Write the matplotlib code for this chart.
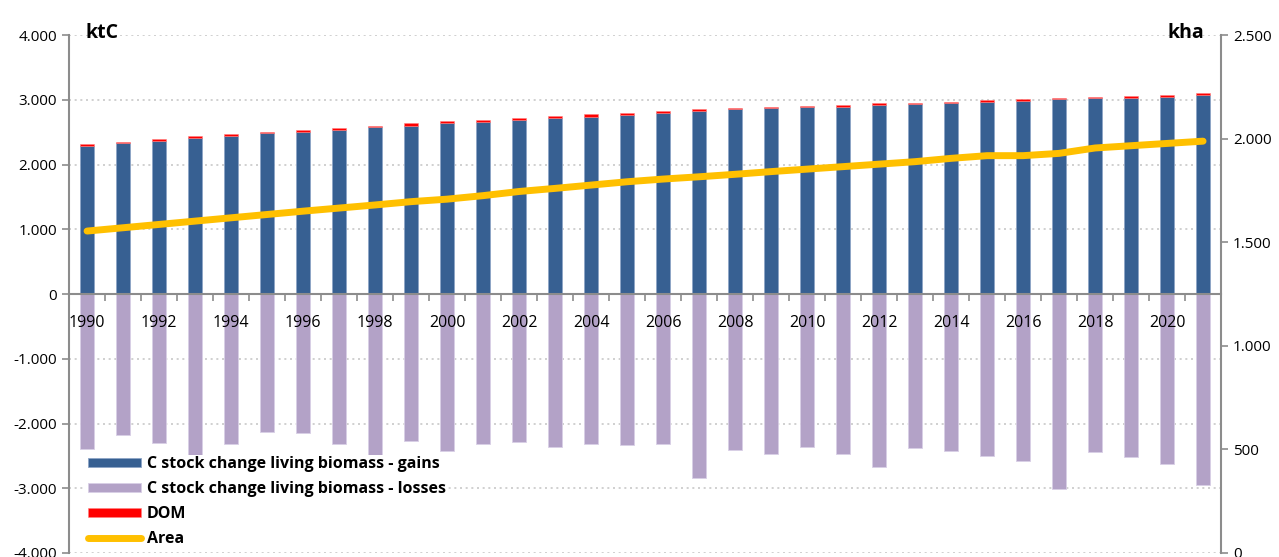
import matplotlib
matplotlib.use('Agg')
import matplotlib.pyplot as plt
from matplotlib.ticker import FuncFormatter, MultipleLocator, FixedLocator
import numpy as np

plt.rcParams['font.family'] = ['Open Sans', 'DejaVu Sans']

years = list(range(1990, 2022))
gains = [2290, 2327, 2358, 2409, 2445, 2482, 2497, 2538, 2574, 2600,
         2636, 2662, 2687, 2713, 2738, 2769, 2800, 2826, 2852, 2867,
         2883, 2893, 2914, 2929, 2945, 2965, 2981, 3007, 3022, 3032,
         3048, 3073]
dom = [31, 25, 36, 31, 31, 20, 36, 31, 26, 36,
       36, 30, 36, 36, 42, 31, 26, 31, 21, 21,
       20, 31, 31, 26, 25, 31, 31, 25, 25, 31,
       30, 31]
losses = [-2394, -2178, -2301, -2641, -2317, -2126, -2152, -2322, -2487, -2270,
          -2430, -2317, -2280, -2368, -2322, -2327, -2322, -2842, -2404, -2471,
          -2358, -2466, -2677, -2384, -2430, -2497, -2585, -3007, -2435, -2523,
          -2631, -2955]
area = [1554, 1570, 1586, 1602, 1618, 1634, 1650, 1665, 1680, 1696,
        1708, 1725, 1745, 1760, 1776, 1792, 1805, 1816, 1828, 1841,
        1853, 1865, 1877, 1889, 1905, 1918, 1918, 1929, 1955, 1966,
        1977, 1988]


def thousands(v, pos):
    s = '{:,.0f}'.format(v).replace(',', '.')
    return s


x = np.arange(len(years))
w = 0.4

fig = plt.figure(figsize=(12.79, 5.57), dpi=100)
ax = fig.add_axes([0.054, 0.0072, 0.9007, 0.9298])

b_loss = ax.bar(x, losses, width=w, color='#B3A2C7', edgecolor='#D9CFE6', linewidth=0.6, zorder=2)
b_gain = ax.bar(x, gains, width=w, color='#376092', edgecolor='#8EA5C6', linewidth=0.6, zorder=2)
b_dom = ax.bar(x, dom, bottom=gains, width=w, color='#FF0000', edgecolor='#FF8080', linewidth=0.4, zorder=2)

ax.set_xlim(-0.5, len(years) - 0.5)
ax.set_ylim(-4000, 4000)
ax.yaxis.set_major_locator(MultipleLocator(1000))
ax.yaxis.set_major_formatter(FuncFormatter(thousands))
# dotted grid behind the bars, axis (ticks, labels) drawn above them
for gy in range(-4000, 4001, 1000):
    if gy != 0:
        ax.axhline(gy, color='#C8C8C8', linestyle=(0, (1.2, 2.2)), linewidth=1.2, zorder=0)
ax.set_axisbelow(False)

ax.spines['top'].set_visible(False)
ax.spines['right'].set_visible(False)
ax.spines['left'].set_color('#8C8C8C')
ax.spines['left'].set_linewidth(1.5)
ax.spines['bottom'].set_position(('data', 0))
ax.spines['bottom'].set_color('#8C8C8C')
ax.spines['bottom'].set_linewidth(1.5)
ax.spines['bottom'].set_zorder(3)

ax.set_xticks(x[::2])
ax.set_xticklabels([str(y) for y in years[::2]])
ax.xaxis.set_minor_locator(FixedLocator(np.arange(-0.5, len(years), 1.0)))
ax.tick_params(axis='x', which='major', length=0, pad=15, labelsize=11.5)
ax.tick_params(axis='x', which='minor', length=5, width=1.2, color='#8C8C8C', direction='out')
ax.tick_params(axis='y', length=5, width=1.2, color='#8C8C8C', labelsize=11)
ax.xaxis.set_zorder(3)

ax2 = ax.twinx()
line, = ax2.plot(x, area, color='#FFC000', linewidth=5, solid_capstyle='round', zorder=4)
ax2.set_ylim(0, 2500)
ax2.yaxis.set_major_locator(MultipleLocator(500))
ax2.yaxis.set_major_formatter(FuncFormatter(thousands))
ax2.spines['top'].set_visible(False)
ax2.spines['left'].set_visible(False)
ax2.spines['bottom'].set_visible(False)
ax2.spines['right'].set_color('#8C8C8C')
ax2.spines['right'].set_linewidth(1.5)
ax2.tick_params(axis='y', length=5, width=1.2, color='#8C8C8C', labelsize=11)

ax.text(0.014, 0.985, 'ktC', transform=ax.transAxes, fontsize=14, fontweight='bold',
        ha='left', va='bottom')
ax.text(0.985, 0.985, 'kha', transform=ax.transAxes, fontsize=14, fontweight='bold',
        ha='right', va='bottom')

leg = ax2.legend([b_gain, b_loss, b_dom, line],
                 ['C stock change living biomass - gains',
                  'C stock change living biomass - losses', 'DOM', 'Area'],
                 loc='upper left', bbox_to_anchor=(0.0613, 0.198), bbox_transform=fig.transFigure,
                 prop={'weight': 'bold', 'size': 11.5}, frameon=True, fancybox=False,
                 facecolor='white', edgecolor='none', framealpha=1, borderpad=0.1,
                 handlelength=3.3, handleheight=0.5, handletextpad=0.4, labelspacing=0.55)
leg.set_zorder(10)

plt.savefig('out.png', dpi=100)
